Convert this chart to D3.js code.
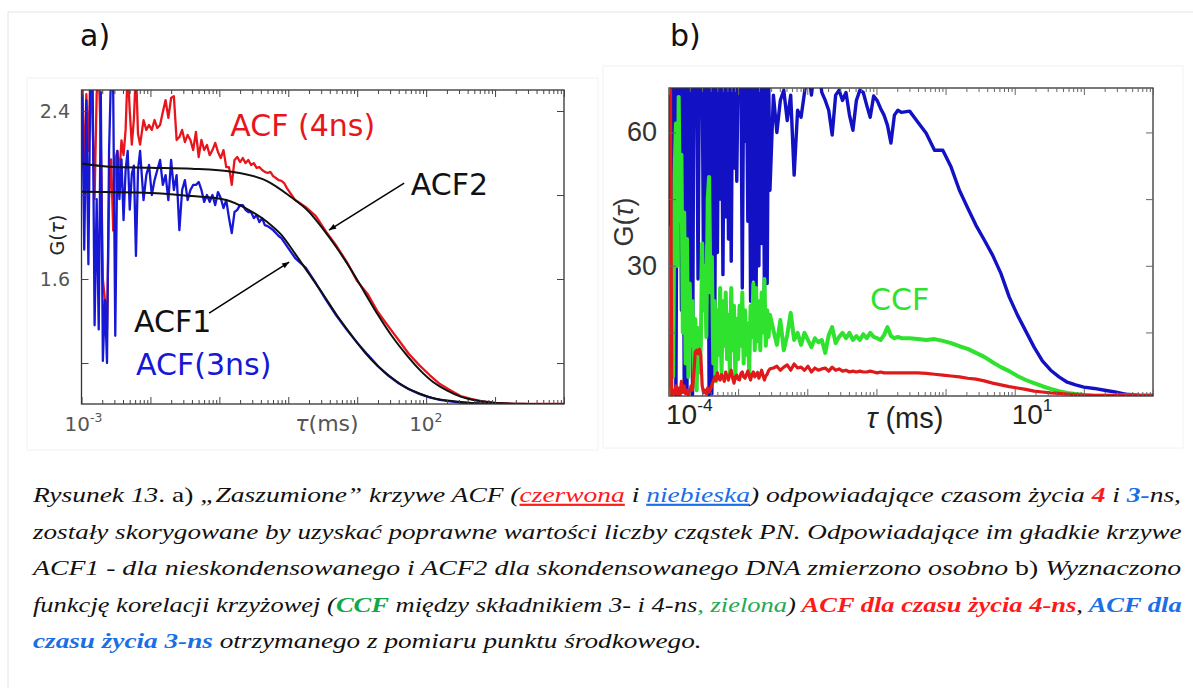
<!DOCTYPE html>
<html>
<head>
<meta charset="utf-8">
<script src="https://cdn.jsdelivr.net/npm/d3@7"></script>
<style>
html, body { margin: 0; padding: 0; background: #fff; }
svg { display: block; }
</style>
</head>
<body>
<svg id="fig" width="1193" height="688"></svg>
<script>
// ---------- panel a) data: log10(tau / ms) and G(tau) ----------
const logTauA = [
  -2.99,-2.96,-2.93,-2.90,-2.87,-2.84,-2.81,-2.78,-2.75,-2.72,-2.69,-2.66,-2.63,-2.60,-2.57,-2.54,-2.51,-2.48,-2.45,-2.42,-2.39,-2.36,-2.33,-2.30,-2.27,-2.24,-2.21,-2.18,-2.15,
  -2.10,-2.06,-2.02,-1.98,-1.94,-1.90,-1.86,-1.82,-1.78,-1.74,-1.70,-1.66,-1.62,-1.58,-1.54,-1.50,-1.46,-1.42,-1.38,-1.34,-1.30,-1.26,-1.22,-1.18,-1.14,-1.10,-1.06,-1.02,-0.98,-0.94,-0.90,-0.86,-0.82,-0.78,-0.74,-0.70,-0.66,-0.62,-0.58,-0.54,-0.50,-0.46,-0.42,-0.38,-0.34,-0.30,-0.26,-0.22,-0.18,-0.14,-0.10,-0.06,-0.02,0.02,0.06,0.10,
  0.25,0.40,0.55,0.70,0.85,1.00,1.15,1.30,1.45,1.60,1.75,1.90,2.05,2.20,2.35,2.50,2.65,2.80,3.00,3.30,3.60,4.00
];
// noisy ACF, 4 ns lifetime (red)
const acf4ns = [
  2.6,2.07,2.48,2.21,2.6,2.36,1.98,2.48,2.6,2.26,1.6,1.5,1.36,1.98,2.17,1.83,2.17,2.21,2.1,2.26,2.19,2.31,2.6,2.4,2.24,2.36,2.6,2.29,2.24,
  2.357,2.31,2.333,2.31,2.357,2.319,2.333,2.395,2.452,2.367,2.462,2.471,2.262,2.276,2.31,2.252,2.286,2.262,2.214,2.3,2.181,2.262,2.214,2.238,2.19,2.214,2.248,2.205,2.176,2.214,2.133,2.133,2.048,2.167,2.181,2.157,2.176,2.152,2.167,2.143,2.152,2.129,2.133,2.119,2.11,2.105,2.11,2.09,2.081,2.071,2.067,2.057,2.033,2.014,1.995,1.976,
  1.943,1.9,1.824,1.757,1.681,1.59,1.529,1.443,1.376,1.31,1.243,1.19,1.143,1.1,1.071,1.043,1.029,1.019,1.01,1.005,1.005,1.005
];
// noisy ACF, 3 ns lifetime (blue)
const acf3ns = [
  2.48,1.74,2.45,1.67,2.6,2.6,1.38,1.98,1.36,2.49,1.21,1.5,1.2,2.21,2.6,2.49,1.33,2.21,1.98,2.17,1.88,2.12,2.21,1.93,2.1,2.14,1.71,2.12,2.21,
  1.976,2.095,2.143,2.0,2.071,2.119,2.167,2.048,2.095,1.976,2.167,2.024,2.095,1.833,2.024,2.071,1.976,2.024,2.048,2.048,2.062,2.024,1.967,2.0,1.967,2.0,1.952,2.014,1.986,1.938,1.976,1.89,1.819,1.919,1.929,1.952,1.952,1.929,1.919,1.919,1.89,1.905,1.871,1.89,1.857,1.852,1.843,1.833,1.819,1.805,1.795,1.776,1.757,1.738,1.719,1.7,
  1.655,1.58,1.5,1.425,1.358,1.297,1.24,1.186,1.14,1.104,1.075,1.053,1.036,1.025,1.017,1.012,1.009,1.007,1.005,1.004,1.004,1.004
];
// smooth curves ACF2 (condensed) and ACF1 (non-condensed)
const logTauFit2 = [-3.0,-2.6,-2.0,-1.4,-0.8,-0.3,0.0,0.3,0.5,0.7,0.9,1.1,1.3,1.5,1.7,1.9,2.1,2.3,2.5,2.75,3.0,3.5,4.0];
const acf2Fit    = [2.15,2.135,2.13,2.125,2.11,2.065,2.0,1.92,1.84,1.75,1.65,1.54,1.43,1.33,1.245,1.17,1.11,1.07,1.04,1.02,1.01,1.005,1.003];
const logTauFit1 = [-3.0,-2.0,-1.4,-0.95,-0.55,-0.3,-0.1,0.1,0.3,0.5,0.7,0.9,1.1,1.3,1.5,1.7,1.9,2.1,2.4,2.7,3.0,4.0];
const acf1Fit    = [2.015,2.01,1.995,1.98,1.925,1.87,1.81,1.72,1.625,1.53,1.43,1.34,1.255,1.185,1.13,1.085,1.055,1.033,1.018,1.009,1.005,1.003];

// ---------- panel b) data ----------
const logTauB = [
  -3.98,-3.96,-3.94,-3.92,-3.90,-3.88,-3.86,-3.84,-3.82,-3.80,-3.78,-3.76,-3.74,-3.72,-3.70,-3.68,-3.66,-3.64,-3.62,-3.60,-3.58,-3.56,-3.54,-3.52,-3.50,-3.48,-3.46,-3.44,-3.42,-3.40,-3.38,-3.36,-3.34,-3.32,-3.30,-3.28,-3.26,-3.24,-3.22,-3.20,-3.18,-3.16,-3.14,-3.12,-3.10,-3.08,-3.06,-3.04,-3.02,-3.00,-2.98,-2.96,-2.94,-2.92,-2.90,-2.88,-2.86,-2.84,-2.82,-2.80,-2.78,-2.76,-2.74,-2.72,-2.70,-2.68,-2.66,-2.64,-2.62,-2.60,-2.58,-2.56,-2.54,
  -2.49,-2.44,-2.39,-2.34,-2.29,-2.24,-2.19,-2.14,-2.09,-2.04,-1.99,-1.94,-1.89,-1.84,-1.79,-1.74,-1.69,-1.64,-1.59,-1.54,-1.49,-1.44,-1.39,-1.34,-1.29,-1.24,-1.19,-1.14,-1.09,-1.04,-0.99,-0.94,-0.89,-0.84,-0.79,-0.74,-0.69,-0.64,
  -0.52,-0.40,-0.28,-0.16,-0.04,0.08,0.20,0.32,0.44,0.56,0.68,0.80,0.92,1.04,1.16,1.28,1.40,1.52,1.64,1.76,1.88,2.00,2.15,2.30,2.45,2.60,2.80,3.00
];
// ACF 3 ns (blue), values above 70 run off the top of the frame
const acf3nsB = [
  39,75,30,75,0.9,75,60,75,20,75,3,75,1.5,75,16,75,1,75,70,75,27,75,65,75,26,75,35,75,1.0,75,1.2,75,9,75,33,75,45,75,28,75,
  41,75,36,75,31,75,52,75,49,75,68,75,25,75,58,75,40,75,22,75,27,75,24,75,30,75,35,75,23,75,26,75,47,
  68.4,60.0,67.2,69.5,62.7,68.4,50.4,65.0,63.4,69.0,75,68.4,75,75,69.0,67.2,65.0,59.4,68.4,69.5,67.2,69.0,63.9,60.5,67.2,69.5,69.0,66.1,63.4,68.2,67.2,65.4,63.9,61.6,57.6,63.9,65.0,64.5,
  64.8,62.3,59.8,56.0,56.0,52.2,47.0,43.0,39.1,35.8,32.4,28.3,23.0,18.9,15.3,11.7,8.6,6.5,5.0,3.8,3.2,2.7,2.4,2.0,1.6,1.1,0.9,0.8
];
// cross-correlation CCF (green)
const ccfB = [
  1,20,5,50,62,30,68,40,55,15,42,8,36,5,26,12,22,3,18,2,16,6,12,35,20,30,14,45,50,24,32,8,22,4,20,10,25,6,22,12,
  24,9,19,6,25,11,21,5,18,9,21,12,24,8,20,10,17,6,21,14,26,11,25,13,22,11,24,15,27,12,20,14,19,
  15.5,12.2,17.8,11.0,14.4,19.4,13.3,14.9,12.2,14.9,13.3,11.7,13.7,12.8,13.3,10.4,14.4,16.2,12.6,14.0,14.9,13.7,14.9,13.3,14.2,13.3,14.6,13.7,14.9,14.0,13.7,13.3,14.4,16.2,14.2,13.7,14.0,13.7,
  13.7,13.5,13.3,13.5,13.1,12.6,11.9,11.3,10.4,9.5,8.3,7.2,6.3,5.2,4.3,3.6,2.9,2.3,1.8,1.4,1.15,0.92,0.8,0.8,0.8,0.8,0.8,0.8
];
// ACF 4 ns (red)
const acf4nsB = [
  75,1.0,2.0,1.2,3.0,1.0,2.5,0.9,4.0,1.5,3.0,1.2,2.0,1.0,1.5,3.0,2.0,6.0,10.6,11.0,10.2,11.2,9.9,3.0,1.4,2.0,1.2,2.5,1.6,2.2,
  3.2,4.0,5.0,4.2,5.9,4.6,4.3,5.5,5.0,4.0,6.1,5.0,4.3,5.6,6.5,4.8,3.6,5.0,5.4,4.5,4.3,5.8,6.1,5.0,4.7,5.5,6.3,5.2,4.3,5.6,
  6.1,5.0,5.4,6.0,4.7,5.5,6.5,5.3,4.3,5.2,5.6,6.4,6.8,
  7.0,7.4,6.5,7.2,7.7,6.5,7.9,7.0,7.2,6.5,7.4,6.1,7.0,6.5,6.8,7.0,6.3,7.2,6.5,6.8,6.3,6.5,6.1,6.3,6.1,6.3,6.1,6.1,6.3,6.1,5.9,6.1,5.9,5.9,5.9,5.9,5.9,5.9,
  5.9,5.9,5.8,5.6,5.4,5.2,5.0,4.7,4.5,4.1,3.6,3.2,2.8,2.5,2.2,1.8,1.6,1.4,1.3,1.15,1.0,0.92,0.8,0.8,0.8,0.8,0.8,0.8
];

// ticks
const yTicksA = [1.2, 1.6, 2.0, 2.4];
const yLabelsA = ["1.6", "2.4"];
const xDecadesA = [-3, -2, -1, 0, 1, 2, 3, 4];
const xLabelsA = [-3, 2];
const yTicksB = [15, 30, 45, 60];
const yLabelsB = ["30", "60"];
const xDecadesB = [-4, -3, -2, -1, 0, 1, 2, 3];
const xLabelsB = [-4, 1];

// caption (segments: text, style)
const captionLines = [
  [["Rysunek 13", ""], [". a) ", "up"], ["\u201EZaszumione\u201D krzywe ACF (", ""], ["czerwona", "red u"], [" i ", ""], ["niebieska", "blue u"],
   [") odpowiadające czasom życia ", ""], ["4", "red b"], [" i ", ""], ["3-", "blue b"], ["ns,", ""]],
  [["zostały skorygowane by uzyskać poprawne wartości liczby cząstek PN. Odpowiadające im gładkie krzywe", ""]],
  [["ACF1 - dla nieskondensowanego i ACF2 dla skondensowanego DNA zmierzono osobno", ""], [" b) ", "up"], ["Wyznaczono", ""]],
  [["funkcję korelacji krzyżowej (", ""], ["CCF", "green b"], [" między składnikiem 3- i 4-ns", ""], [", zielona", "green2"], [")", ""],
   [" ACF dla czasu życia 4-ns", "red b"], [",", ""], [" ACF dla", "blue b"]],
  [["czasu życia 3-ns", "blue b"], [" otrzymanego z pomiaru punktu środkowego.", ""]]
];

const SANS = "'DejaVu Sans', Verdana, sans-serif";
const ARIAL = "'Liberation Sans', Arial, sans-serif";
const SERIF = "'Liberation Serif', 'Times New Roman', serif";

const svg = d3.select("#fig");

// page frame
svg.append("line").attr("x1", 8).attr("y1", 12).attr("x2", 1193).attr("y2", 12).attr("stroke", "#e4e4e4");
svg.append("line").attr("x1", 8).attr("y1", 12).attr("x2", 8).attr("y2", 688).attr("stroke", "#e4e4e4");
svg.append("rect").attr("x", 27).attr("y", 78).attr("width", 571).attr("height", 372).attr("fill", "none").attr("stroke", "#f2f2f2");
svg.append("rect").attr("x", 603).attr("y", 66).attr("width", 580).attr("height", 382).attr("fill", "none").attr("stroke", "#f2f2f2");

const defs = svg.append("defs");
defs.append("marker").attr("id", "arrow").attr("viewBox", "0 0 10 10")
  .attr("refX", 10).attr("refY", 5).attr("markerWidth", 9).attr("markerHeight", 7)
  .attr("markerUnits", "userSpaceOnUse").attr("orient", "auto")
  .append("path").attr("d", "M0,1 L10,5 L0,9 Z").attr("fill", "#000");

function toPoints(logs, vals) {
  return logs.map((l, i) => ({ t: Math.pow(10, l), g: vals[i] }));
}

function minorTicks(decades) {
  const out = [];
  decades.slice(0, -1).forEach(d => {
    for (let k = 2; k <= 9; k++) out.push(k * Math.pow(10, d));
  });
  return out;
}

function drawTicks(g, x, y, decades, yTicks, ext, col) {
  const majors = decades.map(d => Math.pow(10, d));
  const minors = minorTicks(decades);
  const [x0, x1] = x.range();
  const [y0, y1] = y.range();
  const strip = sel => sel.call(s => s.select(".domain").remove()).selectAll("line").attr("stroke", col);
  g.append("g").attr("transform", `translate(0,${y0})`)
    .call(d3.axisBottom(x).tickValues(majors).tickSize(-ext[0]).tickFormat("")).call(strip);
  g.append("g").attr("transform", `translate(0,${y0})`)
    .call(d3.axisBottom(x).tickValues(minors).tickSize(-ext[1]).tickFormat("")).call(strip);
  g.append("g").attr("transform", `translate(0,${y1})`)
    .call(d3.axisTop(x).tickValues(majors).tickSize(-ext[0]).tickFormat("")).call(strip);
  g.append("g").attr("transform", `translate(0,${y1})`)
    .call(d3.axisTop(x).tickValues(minors).tickSize(-ext[1]).tickFormat("")).call(strip);
  g.append("g").attr("transform", `translate(${x0},0)`)
    .call(d3.axisLeft(y).tickValues(yTicks).tickSize(-ext[0]).tickFormat("")).call(strip);
  g.append("g").attr("transform", `translate(${x1},0)`)
    .call(d3.axisRight(y).tickValues(yTicks).tickSize(-ext[0]).tickFormat("")).call(strip);
  g.selectAll(".tick text").remove();
}

function powLabel(g, x, y, exp, size, col, fam) {
  const t = g.append("text").attr("x", x).attr("y", y)
    .style("font-family", fam).attr("font-size", size).attr("fill", col);
  t.append("tspan").text("10");
  t.append("tspan").attr("dy", -size * 0.45).attr("font-size", size * 0.62).text(String(exp));
  return t;
}

// ================= panel a =================
const xA = d3.scaleLog().domain([1e-3, 1e4]).range([81.5, 564]);
const yA = d3.scaleLinear().domain([1.005, 2.5]).range([404, 90]);
const gA = svg.append("g");

defs.append("clipPath").attr("id", "clipA").append("rect")
  .attr("x", 81.5).attr("y", 90).attr("width", 482.5).attr("height", 314);

gA.append("text").style("font-family", SANS).attr("x", 80).attr("y", 46)
  .attr("font-size", 30).attr("fill", "#111").text("a)");

const lineA = d3.line().x(d => xA(d.t)).y(d => yA(d.g));
const plotA = gA.append("g").attr("clip-path", "url(#clipA)");
plotA.append("path").datum(toPoints(logTauA, acf4ns)).attr("d", lineA)
  .attr("fill", "none").attr("stroke", "#e8161c").attr("stroke-width", 2.3).attr("stroke-linejoin", "round");
plotA.append("path").datum(toPoints(logTauA, acf3ns)).attr("d", lineA)
  .attr("fill", "none").attr("stroke", "#1717d6").attr("stroke-width", 2.3).attr("stroke-linejoin", "round");
const fitLine = d3.line().x(d => xA(d.t)).y(d => yA(d.g)).curve(d3.curveMonotoneX);
plotA.append("path").datum(toPoints(logTauFit2, acf2Fit)).attr("d", fitLine)
  .attr("fill", "none").attr("stroke", "#111").attr("stroke-width", 2);
plotA.append("path").datum(toPoints(logTauFit1, acf1Fit)).attr("d", fitLine)
  .attr("fill", "none").attr("stroke", "#111").attr("stroke-width", 2);

gA.append("rect").attr("x", 81.5).attr("y", 90).attr("width", 482.5).attr("height", 314)
  .attr("fill", "none").attr("stroke", "#333").attr("stroke-width", 1.3);
drawTicks(gA, xA, yA, xDecadesA, yTicksA, [7, 4], "#444");

yLabelsA.forEach(s => {
  gA.append("text").style("font-family", SANS).attr("x", 70).attr("y", yA(+s) + 7).attr("text-anchor", "end")
    .attr("font-size", 19).attr("fill", "#555").text(s);
});
xLabelsA.forEach(e => {
  powLabel(gA, xA(Math.pow(10, e)) - 17, 431, e, 20, "#555", SANS);
});
const tauA = gA.append("text").style("font-family", SANS).attr("x", 327).attr("y", 431).attr("text-anchor", "middle")
  .attr("font-size", 22).attr("fill", "#555");
tauA.append("tspan").attr("font-style", "italic").text("τ");
tauA.append("tspan").text("(ms)");
const gLabA = gA.append("text").style("font-family", SANS).attr("transform", "translate(64,235) rotate(-90)")
  .attr("text-anchor", "middle").attr("font-size", 19).attr("fill", "#222");
gLabA.append("tspan").text("G(");
gLabA.append("tspan").attr("font-style", "italic").text("τ");
gLabA.append("tspan").text(")");

// annotations
const annA = [
  { text: "ACF (4ns)", t: 0.144, g: 2.28, col: "#e8161c" },
  { text: "ACF2", t: 60, g: 2.0, col: "#111" },
  { text: "ACF1", t: 0.0058, g: 1.35, col: "#111" },
  { text: "ACF(3ns)", t: 0.0062, g: 1.145, col: "#1717d6" }
];
annA.forEach(a => {
  gA.append("text").style("font-family", SANS).attr("x", xA(a.t)).attr("y", yA(a.g))
    .attr("font-size", 30).attr("fill", a.col).text(a.text);
});
const arrowsA = [
  { t0: 48, g0: 2.057, t1: 3.9, g1: 1.833 },
  { t0: 0.071, g0: 1.438, t1: 1.03, g1: 1.681 }
];
arrowsA.forEach(a => {
  gA.append("line").attr("x1", xA(a.t0)).attr("y1", yA(a.g0)).attr("x2", xA(a.t1)).attr("y2", yA(a.g1))
    .attr("stroke", "#000").attr("stroke-width", 1.5).attr("marker-end", "url(#arrow)");
});

// ================= panel b =================
const xB = d3.scaleLog().domain([1e-4, 1e3]).range([669, 1153]);
const yB = d3.scaleLinear().domain([0.7, 70]).range([396, 88]);
const gB = svg.append("g");

defs.append("clipPath").attr("id", "clipB").append("rect")
  .attr("x", 669).attr("y", 88).attr("width", 484).attr("height", 308);

gB.append("text").style("font-family", SANS).attr("x", 670).attr("y", 46)
  .attr("font-size", 30).attr("fill", "#111").text("b)");

const lineB = d3.line().x(d => xB(d.t)).y(d => yB(d.g));
const plotB = gB.append("g").attr("clip-path", "url(#clipB)");
plotB.append("path").datum(toPoints(logTauB, acf3nsB)).attr("d", lineB)
  .attr("fill", "none").attr("stroke", "#1212c4").attr("stroke-width", 3.4).attr("stroke-linejoin", "round");
plotB.append("path").datum(toPoints(logTauB, ccfB)).attr("d", lineB)
  .attr("fill", "none").attr("stroke", "#2ee22e").attr("stroke-width", 4).attr("stroke-linejoin", "round");
plotB.append("path").datum(toPoints(logTauB, acf4nsB)).attr("d", lineB)
  .attr("fill", "none").attr("stroke", "#e01a1a").attr("stroke-width", 3.2).attr("stroke-linejoin", "round");

gB.append("rect").attr("x", 669).attr("y", 88).attr("width", 484).attr("height", 308)
  .attr("fill", "none").attr("stroke", "#333").attr("stroke-width", 1.3);
drawTicks(gB, xB, yB, xDecadesB, yTicksB, [7, 4], "#666");

yLabelsB.forEach(s => {
  gB.append("text").style("font-family", ARIAL).attr("x", 657).attr("y", yB(+s) + 9).attr("text-anchor", "end")
    .attr("font-size", 27).attr("fill", "#333").text(s);
});
xLabelsB.forEach(e => {
  powLabel(gB, xB(Math.pow(10, e)) - 3, 424, e, 28, "#222", ARIAL);
});
const tauB = gB.append("text").style("font-family", ARIAL).attr("x", 905).attr("y", 428).attr("text-anchor", "middle")
  .attr("font-size", 29).attr("fill", "#222");
tauB.append("tspan").attr("font-style", "italic").text("τ");
tauB.append("tspan").text(" (ms)");
const gLabB = gB.append("text").style("font-family", ARIAL).attr("transform", "translate(633,222) rotate(-90)")
  .attr("text-anchor", "middle").attr("font-size", 27).attr("fill", "#333");
gLabB.append("tspan").text("G(");
gLabB.append("tspan").attr("font-style", "italic").text("τ");
gLabB.append("tspan").text(")");

gB.append("text").style("font-family", SANS).attr("x", xB(0.081)).attr("y", yB(20))
  .attr("font-size", 30).attr("fill", "#2ee22e").text("CCF");

// ================= caption =================
const capStyle = {
  "": { fill: "#111" },
  "up": { fill: "#111", style: "normal" },
  "red u": { fill: "#ff1a1a", deco: "underline" },
  "blue u": { fill: "#1a6fe6", deco: "underline" },
  "red b": { fill: "#ff1a1a", weight: "bold" },
  "blue b": { fill: "#1a6fe6", weight: "bold" },
  "green b": { fill: "#10a84a", weight: "bold" },
  "green2": { fill: "#22aa55" }
};
const capTop = 502, capStep = 36.6, capLeft = 33, capWidth = 1149;
const capTexts = captionLines.map((segs, i) => {
  const t = svg.append("text").attr("y", capTop + i * capStep)
    .style("font-family", SERIF).attr("font-size", 21.5).attr("font-style", "italic")
    .style("white-space", "pre");
  segs.forEach(([txt, st]) => {
    const s = capStyle[st];
    const sp = t.append("tspan").text(txt).attr("fill", s.fill);
    if (s.style) sp.attr("font-style", s.style);
    if (s.weight) sp.attr("font-weight", s.weight);
    if (s.deco) sp.attr("text-decoration", s.deco);
  });
  return t;
});
const scales = capTexts.slice(0, 4).map(t => capWidth / t.node().getComputedTextLength());
const meanScale = d3.mean(scales);
capTexts.forEach((t, i) => {
  const k = i < 4 ? scales[i] : meanScale;
  t.attr("transform", `translate(${capLeft},0) scale(${k},1)`);
});
</script>
</body>
</html>
